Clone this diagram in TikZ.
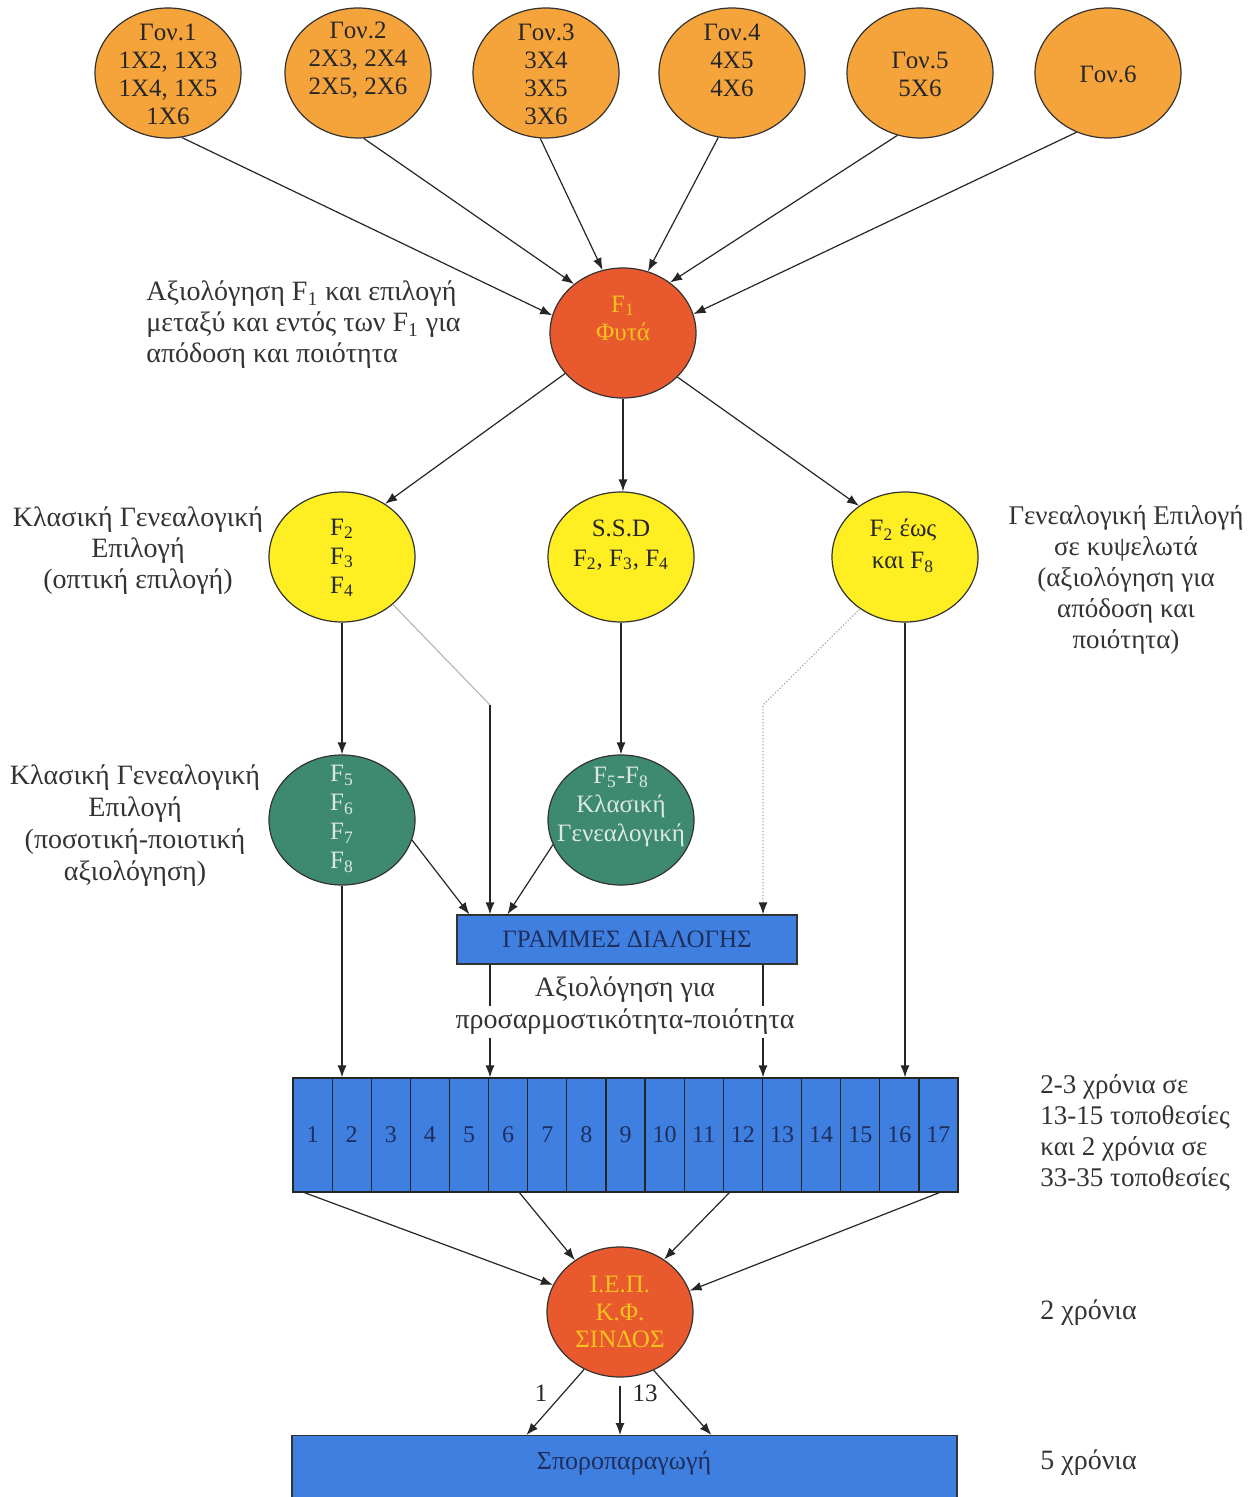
\documentclass[tikz,border=0pt]{standalone}
\usepackage{fontspec}
\setmainfont{Liberation Serif}
\usetikzlibrary{shapes.geometric,arrows.meta,calc}
\definecolor{orng}{HTML}{F5A43C}
\definecolor{redo}{HTML}{E85A2E}
\definecolor{yell}{HTML}{FFEF22}
\definecolor{grn}{HTML}{3E8A70}
\definecolor{blu}{HTML}{3F7FDF}
\definecolor{gold}{HTML}{F8C21E}
\definecolor{navy}{HTML}{1F2E5C}
\definecolor{lgt}{HTML}{DDE8E6}
\tikzset{
  circ/.style={ellipse, draw=black!80, line width=0.6pt, minimum width=73pt, minimum height=65pt, inner sep=0pt},
  arr/.style={-{Latex[length=6pt,width=4.5pt]}, line width=0.6pt, draw=black!85},
  ctxt/.style={font=\fontsize{12.5}{14}\selectfont, align=center, text=black!85, inner sep=0pt},
  atxt/.style={font=\fontsize{14}{15.5}\selectfont, align=center, text=black!80, inner sep=0pt},
  bluebox/.style={rectangle, draw=black!80, line width=0.6pt, fill=blu, inner sep=0pt},
  cell/.style={rectangle, draw=black!85, line width=0.6pt, fill=blu, inner sep=0pt, minimum width=19.56pt, minimum height=57pt, font=\fontsize{12}{14}\selectfont, text=navy},
}
\newcommand{\subx}[1]{\textsubscript{#1}}
\begin{document}
\begin{tikzpicture}[x=0.5pt,y=-0.5pt]
\fill[white] (0,0) rectangle (1259,1497);
\useasboundingbox (0,0) rectangle (1259,1497);

% top parents
\node[circ, fill=orng] (g1) at (168,73) {};
\node[circ, fill=orng] (g2) at (358,73) {};
\node[circ, fill=orng] (g3) at (546,73) {};
\node[circ, fill=orng] (g4) at (732,73) {};
\node[circ, fill=orng] (g5) at (920,73) {};
\node[circ, fill=orng] (g6) at (1108,73) {};
\node[ctxt] (t1) at (168,74) {Γον.1\\1X2, 1X3\\1X4, 1X5\\1X6};
\node[ctxt] (t2) at (358,60) {Γον.2\\2X3, 2X4\\2X5, 2X6};
\node[ctxt] (t3) at (546,74) {Γον.3\\3X4\\3X5\\3X6};
\node[ctxt] (t4) at (732,60) {Γον.4\\4X5\\4X6};
\node[ctxt] (t5) at (920,74) {Γον.5\\5X6};
\node[ctxt] (t6) at (1108,74) {Γον.6};

% F1
\node[circ, fill=redo] (f1) at (623,333) {};
\node[ctxt, text=gold] (tf1) at (623,318) {F\subx{1}\\Φυτά};
\draw[arr] (g1.282) -- (f1.166);
\draw[arr] (g2.275) -- (f1.135);
\draw[arr] (g3.265) -- (f1.108);
\draw[arr] (g4.258) -- (f1.68);
\draw[arr] (g5.250) -- (f1.47);
\draw[arr] (g6.242) -- (f1.15);
\node[atxt, align=left, anchor=west] (a1) at (146,325) {Αξιολόγηση F\subx{1} και επιλογή\\μεταξύ και εντός των F\subx{1} για\\απόδοση και ποιότητα};

% yellow row
\node[circ, fill=yell] (y1) at (342,557) {};
\node[circ, fill=yell] (y2) at (621,557) {};
\node[circ, fill=yell] (y3) at (905,557) {};
\node[ctxt, font=\fontsize{12.5}{14.5}\selectfont] (ty1) at (342,558) {F\subx{2}\\F\subx{3}\\F\subx{4}};
\node[ctxt, font=\fontsize{12.5}{15}\selectfont] (ty2) at (621,545) {S.S.D\\F\subx{2}, F\subx{3}, F\subx{4}};
\node[ctxt, font=\fontsize{12.5}{16}\selectfont] (ty3) at (903,546) {F\subx{2} έως\\και F\subx{8}};
\draw[arr] (f1.215) -- (y1.51);
\draw[arr] (f1.south) -- (f1.south |- y2.north);
\draw[arr] (f1.-39) -- (y3.132);
\node[atxt] (a2) at (138,551) {Κλασική Γενεαλογική\\Επιλογή\\(οπτική επιλογή)};
\node[atxt, font=\fontsize{13.5}{15.5}\selectfont] (a3) at (1126,580) {Γενεαλογική Επιλογή\\σε κυψελωτά\\(αξιολόγηση για\\απόδοση και\\ποιότητα)};

% green row
\node[circ, fill=grn] (gr1) at (342,820) {};
\node[circ, fill=grn] (gr2) at (621,820) {};
\node[ctxt, text=lgt, font=\fontsize{12.5}{14.5}\selectfont] (tg1) at (342,819) {F\subx{5}\\F\subx{6}\\F\subx{7}\\F\subx{8}};
\node[ctxt, text=lgt, font=\fontsize{12.5}{14.5}\selectfont] (tg2) at (621,807) {F\subx{5}-F\subx{8}\\Κλασική\\Γενεαλογική};
\draw[arr] (y1.south) -- (gr1.north);
\draw[arr] (y2.south) -- (gr2.north);
\node[atxt, font=\fontsize{14}{16}\selectfont] (a4) at (135,826) {Κλασική Γενεαλογική\\Επιλογή\\(ποσοτική-ποιοτική\\αξιολόγηση)};

% selection lines box
\node[bluebox, minimum width=170pt, minimum height=24.5pt, font=\fontsize{12.5}{14}\selectfont, text=navy] (box) at (627,939.5) {ΓΡΑΜΜΕΣ ΔΙΑΛΟΓΗΣ};
\coordinate (k1) at (490,705);
\coordinate (k2) at (763,705);
\draw[gray!55, line width=0.6pt] (y1.-43) -- (k1);
\draw[arr] (k1) -- (k1 |- box.north);
\draw[arr] (gr1.-16) -- ($(box.north west)+(13,0)$);
\draw[arr] (gr2.200) -- ($(box.north west)+(51,0)$);
\draw[-{Latex[length=6pt,width=4.5pt,color=black!85]}, gray!70, line width=0.6pt, densely dotted] (y3.229) -- (k2) -- (k2 |- box.north);

% trial row
\node[bluebox, minimum width=332.5pt, minimum height=57pt] (row) at (625.5,1135) {};
\foreach \i in {1,...,17} {
  \node[cell] (c\i) at ({293+39.12*(\i-0.5)},1135) {\i};
}
\draw[arr] (gr1.south) -- (gr1.south |- row.north);
\draw[arr] (y3.south) -- (y3.south |- row.north);
\draw[arr] (k1 |- box.south) -- (k1 |- row.north);
\draw[arr] (k2 |- box.south) -- (k2 |- row.north);
\node[atxt] (a5) at (625,990) {Αξιολόγηση για};
\node[atxt, fill=white, inner sep=1.5pt] (a6) at (625,1022) {προσαρμοστικότητα-ποιότητα};
\node[atxt, align=left, anchor=west, font=\fontsize{13.5}{15.5}\selectfont] (a7) at (1040,1133) {2-3 χρόνια σε\\13-15 τοποθεσίες\\και 2 χρόνια σε\\33-35 τοποθεσίες};

% IEP
\node[circ, fill=redo, ctxt, text=gold, font=\fontsize{12.5}{13.75}\selectfont] (iep) at (620,1312) {Ι.Ε.Π.\\Κ.Φ.\\ΣΙΝΔΟΣ};
\draw[arr] ($(row.south west)+(12,0)$) -- (iep.158);
\draw[arr] ($(row.south west)+(227,0)$) -- (iep.131);
\draw[arr] ($(row.south west)+(437,0)$) -- (iep.50);
\draw[arr] ($(row.south west)+(647,0)$) -- (iep.17);
\node[atxt, anchor=west] (a8) at (1040,1313) {2 χρόνια};

% seed production
\node[bluebox, minimum width=332.5pt, minimum height=37pt, anchor=north] (seed) at (624.5,1435) {};
\node[atxt, text=navy, font=\fontsize{13}{15}\selectfont] (ts) at (624,1463) {Σποροπαραγωγή};
\draw[arr] (iep.238) -- ($(seed.north west)+(235,0)$);
\draw[arr] ([yshift=-4pt]iep.south) -- (iep.south |- seed.north);
\draw[arr] (iep.-60) -- ($(seed.north west)+(420,0)$);
\node[ctxt] (l1) at (541,1393) {1};
\node[ctxt] (l13) at (645,1393) {13};
\node[atxt, anchor=west] (a9) at (1040,1463) {5 χρόνια};
\end{tikzpicture}
\end{document}
